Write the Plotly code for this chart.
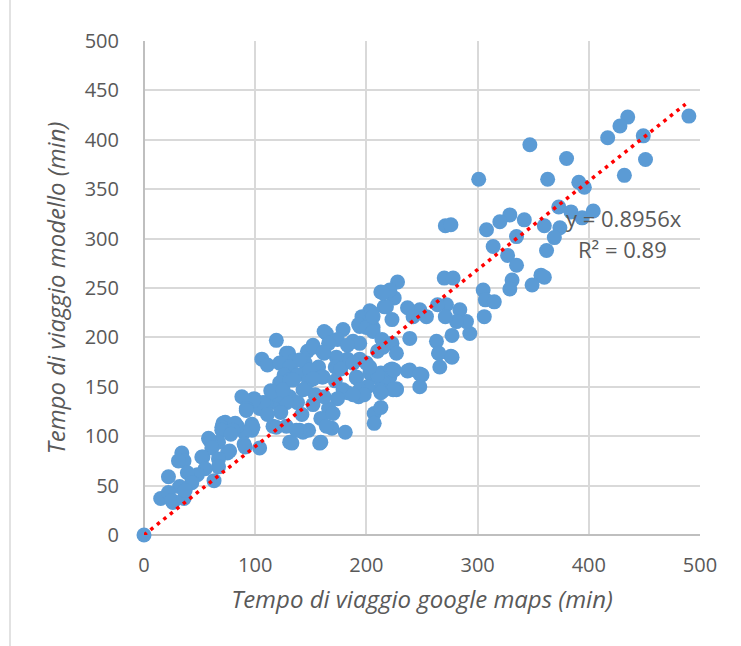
import plotly.graph_objects as go

points = [
(490,424),(435,423),(428,414),(417,402),(449,404),(451,380),(432,364),(347,395),(380,381),(301,360),(363,360),(391,357),(396,352),(373,332),(384,327),(394,321),(404,328),(360,313),(374,311),(369,301),(362,288),(342,319),(329,324),(320,317),(308,309),(335,302),(314,292),(327,283),(335,273),(271,313),(276,314),(357,263),(360,261),(349,253),(331,258),(329,249),(270,260),(278,260),(305,248),(307,238),(315,236),(306,221),(293,204),(290,216),(284,228),(281,216),(277,202),(276,181),(265,184),(263,196),(266,170),(272,233),(264,233),(271,221),(254,221),(248,228),(237,230),(242,221),(239,199),(228,256),(213,246),(225,240),(216,231),(221,248),(223,218),(203,227),(196,221),(205,225),(194,211),(206,210),(179,208),(164,204),(162,206),(119,197),(193,213),(200,210),(206,221),(206,206),(188,196),(194,194),(174,198),(214,198),(223,194),(227,184),(210,186),(194,178),(183,178),(173,180),(172,170),(162,184),(152,192),(147,186),(157,170),(130,184),(128,184),(135,176),(145,174),(140,177),(106,178),(111,172),(122,174),(131,170),(126,162),(138,162),(148,156),(149,167),(160,160),(161,160),(172,156),(191,160),(191,159),(203,164),(206,160),(213,164),(221,160),(221,167),(223,168),(225,167),(239,167),(237,166),(250,162),(248,163),(248,150),(227,147),(227,148),(215,154),(215,146),(224,147),(212,147),(201,150),(194,147),(193,140),(198,142),(183,144),(179,147),(174,138),(166,128),(159,118),(169,108),(181,104),(159,94),(158,93),(148,106),(143,104),(140,106),(142,122),(131,94),(128,110),(116,110),(119,109),(114,146),(125,154),(122,154),(131,157),(131,140),(118,134),(110,134),(104,128),(107,134),(99,138),(98,136),(88,140),(92,128),(92,126),(104,88),(97,112),(97,106),(98,109),(90,104),(84,110),(73,114),(71,113),(70,109),(82,113),(80,106),(70,106),(78,102),(90,92),(91,89),(77,85),(75,83),(67,94),(59,96),(58,98),(61,88),(67,77),(67,69),(63,55),(53,79),(52,79),(55,67),(48,61),(34,83),(36,75),(31,75),(39,63),(43,53),(32,49),(22,59),(15,37),(22,43),(26,33),(25,35),(36,37),(37,45),(0,0),(183,192),(166,194),(200,174),(177,168),(152,158),(154,142),(145,148),(138,134),(128,134),(152,132),(162,140),(119,142),(115,145),(123,124),(111,122),(207,123),(207,113),(213,129),(188,142),(213,144),(210,162),(164,110),(170,123),(133,93),(137,106),(143,147),(125,147),(134,157),(152,190),(161,185),(188,174),(203,170),(218,231),(215,245),(215,190),(265,184),(277,180),
]
tempo_google = [p[0] for p in points]
tempo_modello = [p[1] for p in points]

slope = 0.8956
trend_x = [0, 487]
trend_y = [slope * v for v in trend_x]

tick_vals = [0, 100, 200, 300, 400, 500]
ytick_vals = [0, 50, 100, 150, 200, 250, 300, 350, 400, 450, 500]

FONT = "Open Sans"
GREY = "#595959"

W, H = 741, 646
L, R, T, B = 144, 41, 41, 111
pw, ph = W - L - R, H - T - B


def px(xp):
    return (xp - L) / pw


def py(yp):
    return 1 - (yp - T) / ph


fig = go.Figure()
fig.add_trace(go.Scatter(
    x=tempo_google, y=tempo_modello, mode="markers", cliponaxis=False,
    marker=dict(color="#5B9BD5", size=15, line=dict(width=0)),
    showlegend=False, hoverinfo="x+y"))
fig.add_trace(go.Scatter(
    x=trend_x, y=trend_y, mode="lines",
    line=dict(color="#FF0000", width=3.5, dash="3.5px,4.8px"),
    showlegend=False, hoverinfo="skip"))

fig.add_annotation(x=px(624), y=py(218), xref="paper", yref="paper", text="y = 0.8956x",
                   xanchor="center", yanchor="middle",
                   showarrow=False, font=dict(family=FONT, size=22, color=GREY))
fig.add_annotation(x=px(622), y=py(249), xref="paper", yref="paper", text="R² = 0.89",
                   xanchor="center", yanchor="middle",
                   showarrow=False, font=dict(family=FONT, size=22, color=GREY))

fig.add_shape(type="line", xref="paper", yref="paper",
              x0=px(10), x1=px(10), y0=py(646), y1=py(0),
              line=dict(color="#d9d9d9", width=1.5))

fig.update_layout(
    width=W, height=H,
    margin=dict(l=L, r=R, t=T, b=B),
    paper_bgcolor="white", plot_bgcolor="white",
    font=dict(family=FONT, color=GREY, size=20),
    xaxis=dict(range=[0, 500], tickvals=tick_vals, showgrid=True, gridcolor="#d9d9d9", gridwidth=2,
               zeroline=True, zerolinecolor="#bfbfbf", zerolinewidth=2, showline=False,
               ticklabelstandoff=16, tickfont=dict(family=FONT, size=20, color=GREY),
               title=dict(text="<i>Tempo di viaggio google maps (min)</i>", standoff=14,
                          font=dict(family=FONT, size=24, color=GREY))),
    yaxis=dict(range=[0, 500], tickvals=ytick_vals, showgrid=True, gridcolor="#d9d9d9", gridwidth=2,
               zeroline=True, zerolinecolor="#bfbfbf", zerolinewidth=2, showline=False,
               ticklabelstandoff=24, tickfont=dict(family=FONT, size=20, color=GREY),
               title=dict(text="<i>Tempo di viaggio modello (min)</i>", standoff=12,
                          font=dict(family=FONT, size=24, color=GREY))),
)

fig.write_html("out.html")
